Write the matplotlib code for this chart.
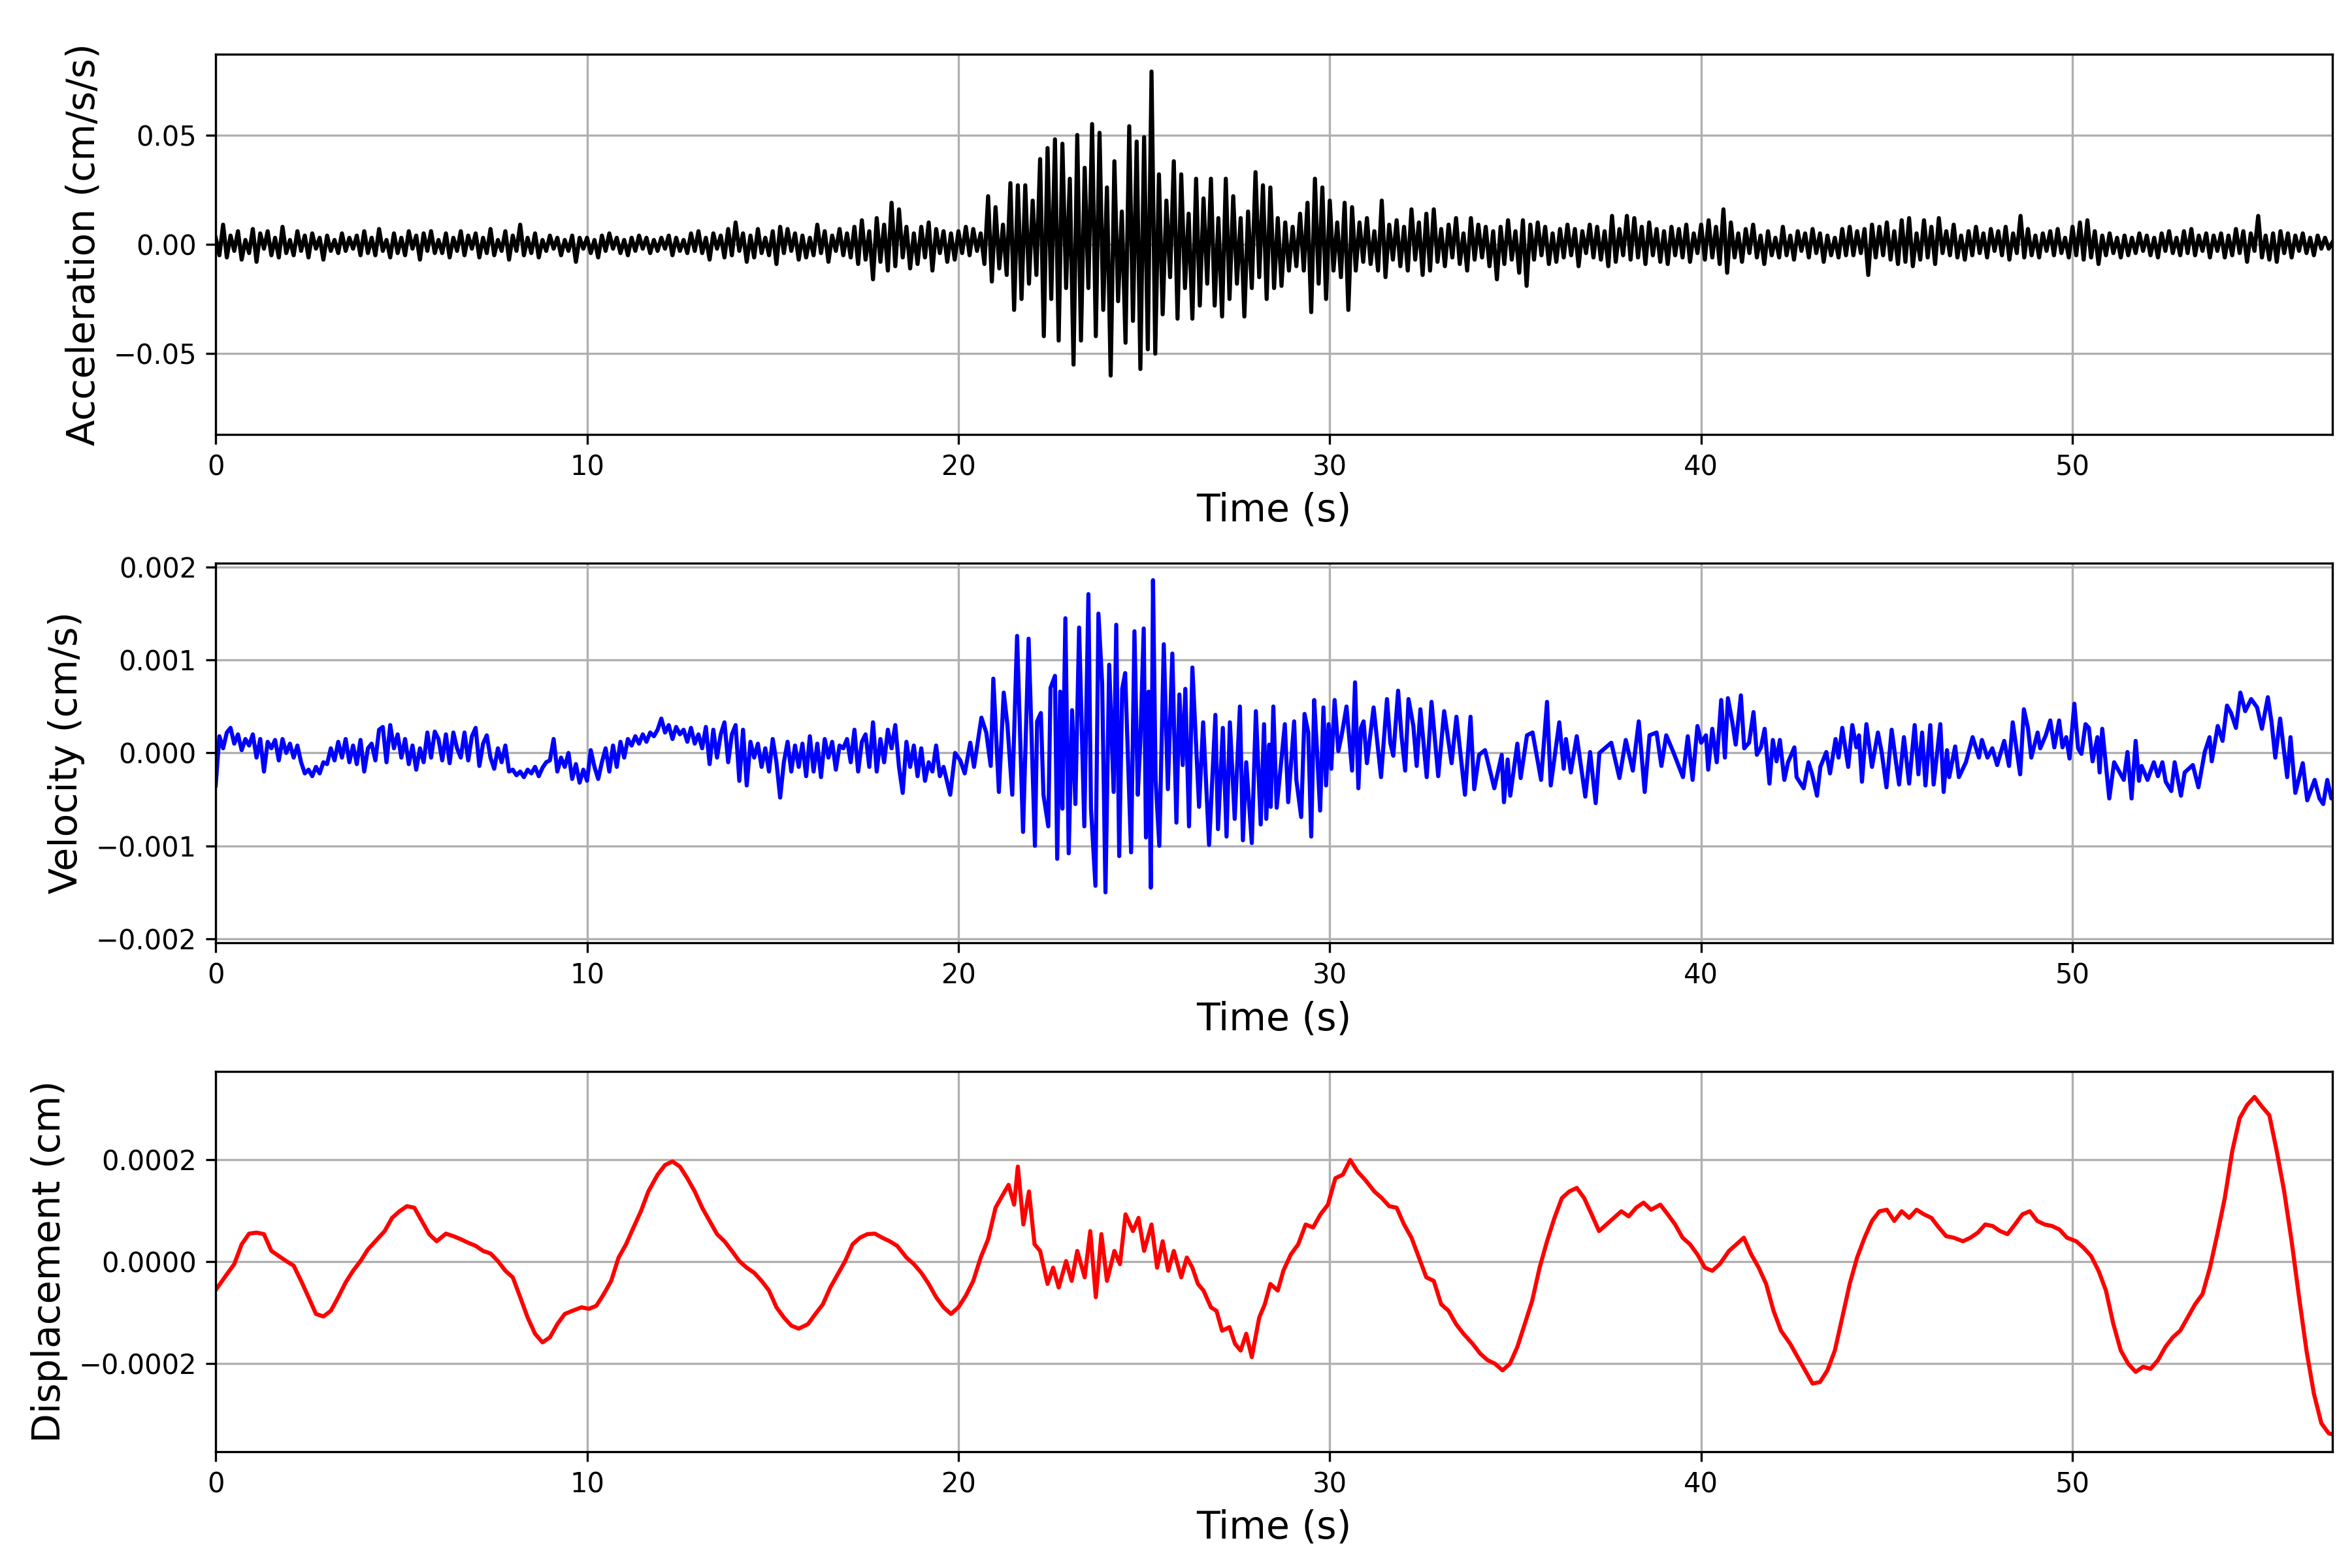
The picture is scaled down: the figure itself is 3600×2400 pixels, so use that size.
import numpy as np
import matplotlib.pyplot as plt
from matplotlib.ticker import MultipleLocator

# acceleration, read every 0.1 s, in units of 0.001 cm/s/s
acc_dt = 0.1
acc_milli = [
    3, -5, 9, -6, 4, -3, 6, -7, 2, -4,
    7, -8, 5, -2, 6, -5, 3, -6, 8, -4,
    2, -5, 6, -3, 4, -6, 5, -2, 3, -7,
    4, -3, 2, -4, 5, -3, 3, -2, 4, -5,
    6, -4, 3, -5, 7, -3, 2, -6, 5, -4,
    3, -5, 6, -2, 4, -7, 5, -3, 6, -4,
    2, -4, 5, -6, 3, -3, 6, -5, 4, -2,
    5, -6, 3, -4, 7, -5, 2, -3, 6, -7,
    4, -3, 9, -5, 3, -4, 5, -6, 2, -3,
    4, -2, 3, -5, 2, -3, 4, -8, 3, -2,
    3, -4, 2, -6, 4, -3, 5, -2, 3, -4,
    2, -5, 3, -3, 4, -2, 3, -4, 2, -3,
    3, -2, 4, -5, 3, -3, 2, -4, 5, -3,
    6, -4, 3, -7, 5, -2, 4, -6, 7, -5,
    10, -3, 5, -8, 4, -6, 7, -4, 3, -5,
    6, -9, 8, -4, 7, -3, 5, -7, 4, -6,
    3, -5, 9, -4, 6, -8, 4, -3, 7, -5,
    5, -6, 8, -9, 11, -7, 6, -16, 12, -8,
    9, -12, 19, -10, 16, -6, 8, -11, 5, -9,
    8, -6, 10, -12, 7, -4, 6, -8, 5, -7,
    6, -4, 8, -5, 7, -3, 5, -9, 22, -17,
    17, -11, 9, -14, 28, -30, 27, -25, 27, -18,
    20, -14, 39, -42, 44, -25, 48, -44, 46, -20,
    30, -55, 50, -44, 35, -20, 55, -42, 51, -30,
    26, -60, 38, -26, 15, -45, 54, -35, 47, -57,
    49, -48, 79, -50, 32, -32, 20, -15, 38, -34,
    32, -20, 14, -34, 30, -28, 21, -18, 30, -28,
    12, -33, 30, -25, 22, -18, 12, -33, 15, -20,
    33, -15, 27, -25, 26, -20, 12, -19, 10, -12,
    8, -10, 14, -12, 19, -31, 30, -18, 26, -25,
    20, -12, 10, -15, 19, -30, 17, -12, 10, -8,
    12, -9, 6, -12, 20, -15, 9, -7, 11, -10,
    8, -12, 16, -7, 10, -14, 14, -12, 16, -8,
    7, -10, 9, -6, 12, -9, 5, -12, 12, -7,
    9, -6, 8, -10, 6, -16, 8, -9, 11, -7,
    6, -13, 11, -19, 9, -7, 10, -5, 8, -9,
    5, -8, 7, -6, 9, -5, 7, -10, 6, -4,
    9, -6, 8, -7, 6, -10, 13, -8, 7, -5,
    13, -7, 12, -6, 8, -9, 10, -5, 7, -8,
    6, -9, 8, -5, 7, -6, 9, -8, 5, -4,
    9, -7, 11, -6, 8, -9, 16, -13, 10, -6,
    5, -8, 7, -4, 9, -6, 4, -9, 6, -5,
    3, -6, 8, -5, 4, -7, 6, -3, 5, -6,
    7, -4, 5, -8, 4, -5, 3, -6, 7, -5,
    8, -5, 6, -4, 7, -14, 9, -6, 8, -5,
    10, -7, 6, -9, 11, -8, 12, -10, 5, -7,
    11, -6, 8, -9, 12, -4, 6, -5, 9, -6,
    4, -7, 6, -5, 8, -4, 5, -6, 7, -3,
    6, -5, 8, -7, 5, -4, 13, -6, 7, -5,
    4, -6, 5, -3, 6, -5, 7, -4, 3, -6,
    8, -5, 10, -7, 11, -6, 6, -9, 4, -5,
    5, -4, 3, -6, 4, -5, 3, -4, 5, -3,
    4, -5, 3, -6, 5, -3, 6, -4, 3, -5,
    6, -4, 7, -5, 4, -3, 5, -6, 4, -3,
    5, -6, 4, -5, 7, -4, 6, -8, 5, -3,
    13, -6, 4, -7, 5, -8, 6, -4, 5, -6,
    4, -3, 5, -4, 3, -5, 4, -2, 3, -2,
    1,
]

# velocity before the strong motion, every 0.1 s from 0 to 19.6 s (units 1e-5 cm/s)
vel_quiet = [
    -35, 18, 5, 22, 27, 10, 20, 3, 15, 8,
    20, -5, 15, -20, 12, 5, 14, -8, 15, 0,
    10, -5, 8, -10, -22, -18, -25, -15, -22, -10,
    -12, 5, -8, 12, -5, 15, -10, 8, -12, 14,
    -20, 5, 10, -8, 25, 28, -10, 30, 5, 20,
    -5, 15, -12, 8, -18, 5, -10, 22, -5, 23,
    15, -8, 20, -11, 22, 5, -5, 22, -8, 18,
    27, -14, 10, 19, -5, -17, 5, -10, 8, -20,
    -18, -24, -20, -26, -18, -22, -15, -25, -16, -10,
    -8, 15, -20, -5, -15, 0, -28, -12, -32, -18,
    -30, 3, -15, -28, -10, 5, -20, 8, -15, 12,
    -5, 15, 8, 18, 10, 20, 12, 22, 18, 25,
    37, 22, 30, 15, 28, 20, 25, 12, 27, 10,
    20, 5, 28, -12, 25, -5, 20, 33, -10, 20,
    30, -30, 25, -35, 12, -5, 10, -15, 5, -20,
    15, -10, -48, -10, 12, -20, 8, -15, 10, -25,
    18, -20, 10, -26, 15, -5, 12, -18, 8, 5,
    15, -10, 25, -20, 12, 20, -15, 33, -20, 15,
    -10, 25, 5, 30, -15, -43, 12, -15, 8, -25,
    5, -30, -10, -20, 8, -25, -15,
]

# velocity turning points from 19.78 s to the end
vel_t_main = [
    19.78, 19.91, 20.05, 20.17, 20.32, 20.42, 20.62, 20.75, 20.87, 20.94,
    21.09, 21.22, 21.32, 21.45, 21.58, 21.74, 21.89, 22.06, 22.12, 22.22,
    22.29, 22.42, 22.48, 22.60, 22.66, 22.74, 22.80, 22.88, 22.97, 23.06,
    23.15, 23.25, 23.39, 23.50, 23.57, 23.69, 23.77, 23.87, 23.96, 24.06,
    24.18, 24.25, 24.33, 24.41, 24.49, 24.65, 24.74, 24.83, 24.90, 24.99,
    25.05, 25.12, 25.18, 25.24, 25.31, 25.41, 25.53, 25.64, 25.76, 25.87,
    25.95, 26.04, 26.11, 26.21, 26.30, 26.48, 26.59, 26.75, 26.92, 26.99,
    27.12, 27.22, 27.31, 27.44, 27.58, 27.66, 27.75, 27.90, 28.01, 28.14,
    28.23, 28.29, 28.37, 28.41, 28.48, 28.57, 28.79, 28.88, 29.04, 29.10,
    29.23, 29.32, 29.42, 29.50, 29.58, 29.65, 29.74, 29.83, 29.90, 29.97,
    30.04, 30.13, 30.23, 30.32, 30.45, 30.60, 30.68, 30.77, 30.84, 30.91,
    31.00, 31.18, 31.38, 31.54, 31.63, 31.71, 31.84, 31.93, 32.03, 32.12,
    32.25, 32.34, 32.44, 32.61, 32.74, 32.92, 33.08, 33.28, 33.41, 33.64,
    33.79, 33.89, 34.02, 34.18, 34.43, 34.63, 34.69, 34.79, 34.86, 35.05,
    35.14, 35.31, 35.46, 35.69, 35.85, 35.95, 36.18, 36.30, 36.36, 36.49,
    36.65, 36.88, 37.01, 37.16, 37.26, 37.58, 37.80, 37.97, 38.16, 38.32,
    38.48, 38.61, 38.80, 38.93, 39.06, 39.25, 39.51, 39.64, 39.77, 39.90,
    40.00, 40.13, 40.19, 40.30, 40.42, 40.54, 40.64, 40.72, 40.84, 40.93,
    41.07, 41.16, 41.29, 41.41, 41.50, 41.61, 41.71, 41.84, 41.93, 42.03,
    42.12, 42.24, 42.34, 42.51, 42.57, 42.76, 42.89, 42.99, 43.12, 43.21,
    43.37, 43.47, 43.62, 43.70, 43.80, 43.96, 44.07, 44.18, 44.25, 44.33,
    44.45, 44.60, 44.76, 44.86, 44.99, 45.13, 45.22, 45.33, 45.46, 45.60,
    45.75, 45.85, 45.95, 46.04, 46.17, 46.26, 46.44, 46.53, 46.62, 46.68,
    46.84, 46.94, 47.13, 47.31, 47.48, 47.56, 47.71, 47.84, 47.97, 48.16,
    48.29, 48.39, 48.59, 48.69, 48.80, 48.89, 49.06, 49.13, 49.28, 49.40,
    49.51, 49.64, 49.73, 49.83, 49.92, 50.05, 50.15, 50.24, 50.35, 50.44,
    50.54, 50.67, 50.73, 50.80, 50.99, 51.12, 51.27, 51.38, 51.48, 51.59,
    51.70, 51.79, 51.86, 52.02, 52.19, 52.30, 52.42, 52.51, 52.66, 52.75,
    52.92, 53.02, 53.24, 53.39, 53.56, 53.69, 53.75, 53.91, 54.04, 54.16,
    54.27, 54.40, 54.52, 54.65, 54.81, 54.97, 55.10, 55.26, 55.36, 55.46,
    55.59, 55.78, 55.87, 56.00, 56.20, 56.32, 56.52, 56.65, 56.75, 56.86,
    56.97, 57.00,
]
vel_main = [
    -45, 0, -8, -22, 11, -15, 38, 22, -14, 80,
    -42, 65, 30, -45, 126, -85, 123, -100, 34, 43,
    -45, -79, 70, 83, -114, 66, -60, 145, -108, 46,
    -55, 135, -79, 171, -60, -143, 150, 75, -150, 95,
    -42, 138, -111, 69, 86, -107, 131, -45, 14, 134,
    -91, 66, -145, 186, -29, -100, 117, -39, 107, -75,
    63, -13, 69, -79, 92, -58, 33, -99, 41, -82,
    27, -90, 33, -71, 50, -94, -10, -97, 45, -77,
    31, -71, 9, -58, 50, -59, 31, -53, 34, -29,
    -69, 42, 22, -90, 57, 7, -62, 49, -35, 31,
    -17, 57, 2, 19, 50, -19, 76, -38, 27, 34,
    -11, 49, -26, 58, 11, -3, 67, 19, -19, 58,
    29, -14, 47, -26, 55, -25, 45, -11, 39, -45,
    39, -39, -2, 3, -38, -2, -53, -7, -46, 10,
    -27, 19, 22, -29, 55, -35, 33, -17, 15, -21,
    18, -47, 1, -54, 0, 11, -27, 14, -19, 34,
    -42, 19, 22, -14, 19, 1, -26, 18, -29, 29,
    11, 19, -18, 26, -10, 57, -5, 59, 33, 9,
    62, 5, 11, 44, -2, 6, 26, -33, 14, -9,
    14, -29, -10, 6, -26, -38, -10, -23, -46, -15,
    1, -22, 15, -5, 27, -15, 30, 6, 19, -31,
    31, -15, 22, 1, -37, 25, -2, -34, 17, -33,
    30, -23, 22, -35, 30, -34, 31, -42, 3, -26,
    7, -26, -10, 17, -5, 14, -5, 5, -13, 13,
    -14, 33, -23, 47, 27, -5, 22, 5, 19, 35,
    6, 35, 6, 17, -6, 53, 5, -1, 31, 27,
    -9, 17, -21, 26, -49, -10, -21, -29, 1, -49,
    13, -30, -14, -29, -10, -25, -10, -31, -41, -10,
    -46, -21, -13, -37, 1, 17, -9, 29, 13, 51,
    43, 27, 65, 45, 58, 49, 26, 60, 33, -5,
    37, -26, 17, -43, -11, -51, -29, -49, -55, -29,
    -49, -45,
]

# displacement (units 1e-6 cm)
disp_t = [
    0.0, 0.3, 0.5, 0.7, 0.9, 1.1, 1.3, 1.5, 1.7, 1.9,
    2.1, 2.3, 2.5, 2.7, 2.9, 3.1, 3.3, 3.5, 3.7, 3.9,
    4.1, 4.35, 4.55, 4.75, 4.95, 5.15, 5.35, 5.55, 5.75, 5.95,
    6.2, 6.4, 6.6, 6.8, 7.0, 7.2, 7.4, 7.6, 7.8, 8.0,
    8.2, 8.4, 8.6, 8.8, 9.0, 9.2, 9.4, 9.6, 9.85, 10.05,
    10.25, 10.45, 10.65, 10.85, 11.05, 11.25, 11.45, 11.65, 11.9, 12.1,
    12.3, 12.5, 12.7, 12.9, 13.1, 13.3, 13.5, 13.7, 13.9, 14.1,
    14.3, 14.5, 14.7, 14.9, 15.1, 15.3, 15.5, 15.7, 15.95, 16.15,
    16.35, 16.55, 16.75, 16.95, 17.15, 17.35, 17.55, 17.75, 17.95, 18.15,
    18.35, 18.6, 18.8, 19.0, 19.2, 19.4, 19.6, 19.8, 20.0, 20.2,
    20.4, 20.6, 20.8, 21.0, 21.2, 21.35, 21.5, 21.6, 21.75, 21.9,
    22.05, 22.2, 22.4, 22.55, 22.7, 22.9, 23.05, 23.2, 23.4, 23.55,
    23.7, 23.85, 24.0, 24.2, 24.35, 24.5, 24.7, 24.85, 25.0, 25.2,
    25.35, 25.5, 25.65, 25.8, 26.0, 26.15, 26.3, 26.45, 26.6, 26.8,
    26.95, 27.1, 27.3, 27.45, 27.6, 27.75, 27.9, 28.1, 28.25, 28.4,
    28.6, 28.75, 28.95, 29.15, 29.35, 29.55, 29.75, 29.95, 30.15, 30.35,
    30.55, 30.75, 30.95, 31.2, 31.4, 31.6, 31.8, 32.0, 32.2, 32.4,
    32.6, 32.8, 33.0, 33.2, 33.4, 33.6, 33.85, 34.05, 34.25, 34.45,
    34.65, 34.85, 35.05, 35.25, 35.45, 35.65, 35.85, 36.05, 36.25, 36.45,
    36.65, 36.85, 37.05, 37.25, 37.45, 37.65, 37.85, 38.05, 38.25, 38.45,
    38.65, 38.9, 39.1, 39.3, 39.5, 39.7, 39.9, 40.1, 40.3, 40.5,
    40.75, 40.95, 41.15, 41.35, 41.55, 41.75, 41.95, 42.15, 42.4, 42.6,
    42.8, 43.0, 43.2, 43.4, 43.6, 43.8, 44.0, 44.2, 44.4, 44.6,
    44.8, 45.0, 45.2, 45.4, 45.6, 45.8, 46.0, 46.2, 46.4, 46.6,
    46.8, 47.05, 47.25, 47.45, 47.65, 47.85, 48.05, 48.25, 48.45, 48.65,
    48.85, 49.05, 49.25, 49.45, 49.65, 49.85, 50.1, 50.3, 50.5, 50.7,
    50.9, 51.1, 51.3, 51.5, 51.7, 51.9, 52.1, 52.3, 52.5, 52.7,
    52.9, 53.1, 53.3, 53.5, 53.7, 53.9, 54.1, 54.3, 54.5, 54.7,
    54.9, 55.1, 55.3, 55.5, 55.7, 55.9, 56.1, 56.3, 56.5, 56.7,
    56.9, 57.0,
]
disp_micro = [
    -56, -25, -5, 34, 55, 57, 54, 21, 11, 1,
    -8, -38, -70, -103, -108, -97, -70, -41, -18, 1,
    24, 44, 60, 86, 99, 109, 106, 80, 54, 40,
    55, 50, 44, 37, 31, 21, 16, 1, -18, -31,
    -70, -110, -142, -159, -149, -123, -103, -97, -90, -93,
    -87, -64, -38, 8, 34, 67, 99, 138, 171, 190,
    197, 187, 164, 138, 106, 80, 54, 40, 21, 1,
    -12, -22, -38, -57, -90, -110, -126, -132, -123, -103,
    -84, -51, -25, 1, 34, 47, 54, 55, 47, 40,
    31, 8, -5, -22, -44, -70, -90, -103, -90, -67,
    -38, 8, 44, 106, 132, 151, 112, 187, 73, 138,
    34, 21, -44, -12, -51, 1, -38, 21, -31, 60,
    -70, 54, -38, 21, -5, 93, 60, 86, 21, 73,
    -12, 40, -18, 21, -31, 8, -12, -44, -57, -90,
    -97, -136, -129, -162, -175, -142, -188, -110, -84, -44,
    -57, -18, 14, 34, 73, 67, 93, 112, 164, 171,
    200, 177, 161, 138, 125, 109, 106, 73, 47, 8,
    -31, -38, -84, -97, -123, -142, -162, -181, -194, -201,
    -214, -201, -168, -123, -77, -12, 40, 86, 125, 138,
    145, 125, 93, 60, 73, 86, 99, 89, 106, 116,
    102, 112, 93, 73, 47, 34, 14, -12, -18, -5,
    21, 34, 47, 14, -12, -44, -97, -136, -162, -188,
    -214, -240, -237, -214, -175, -110, -44, 8, 47, 80,
    99, 102, 80, 99, 86, 102, 93, 86, 67, 50,
    47, 40, 47, 57, 73, 70, 60, 54, 73, 93,
    99, 80, 73, 70, 63, 47, 40, 27, 11, -18,
    -57, -123, -175, -201, -217, -207, -211, -194, -168, -149,
    -136, -110, -84, -64, -12, 54, 125, 217, 282, 308,
    324, 305, 288, 217, 138, 40, -70, -175, -260, -318,
    -338, -340,
]

acc = np.array(acc_milli) * 1e-3
t_acc = np.arange(len(acc)) * acc_dt
vel = np.array(vel_quiet + vel_main) * 1e-5
t_vel = np.concatenate([np.arange(len(vel_quiet)) * 0.1, vel_t_main])
disp = np.array(disp_micro) * 1e-6

series = [
    (t_acc, acc, 'k', 'Acceleration (cm/s/s)'),
    (t_vel, vel, 'b', 'Velocity (cm/s)'),
    (np.array(disp_t), disp, 'r', 'Displacement (cm)'),
]

fig, axes = plt.subplots(3, 1, figsize=(12, 8))
for ax, (t, y, c, label) in zip(axes, series):
    ax.plot(t, y, color=c, linewidth=1.5)
    ax.set_xlim(0, 57.0)
    lim = 1.1 * np.abs(y).max()
    ax.set_ylim(-lim, lim)
    ax.set_xlabel('Time (s)', fontsize=14)
    ax.set_ylabel(label, fontsize=14)
    ax.grid(True)

axes[0].yaxis.set_major_locator(MultipleLocator(0.05))

fig.subplots_adjust(left=0.0917, right=0.9917, top=0.9654, bottom=0.0742,
                    hspace=0.338)
fig.savefig('out.png', dpi=300)
